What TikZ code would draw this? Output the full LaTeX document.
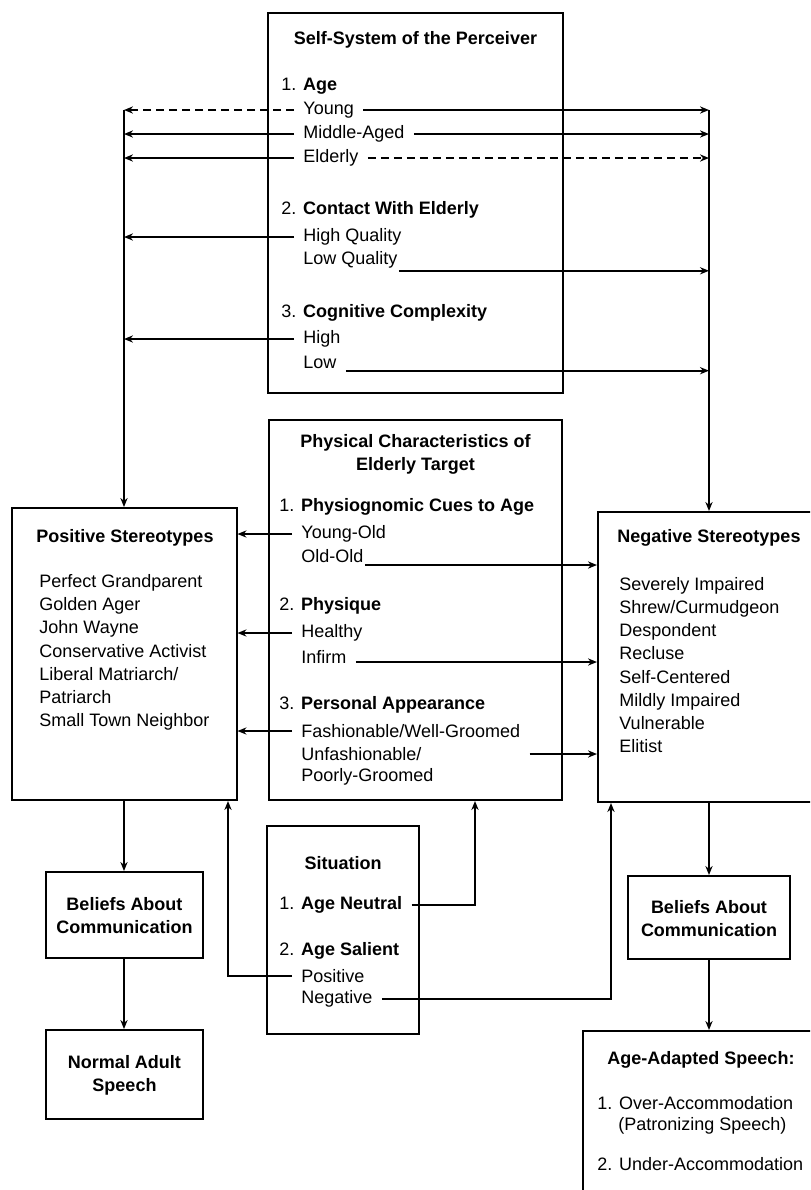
\documentclass[tikz,border=0pt]{standalone}
\usepackage{fontspec}
\setmainfont{Liberation Sans}
\usetikzlibrary{arrows.meta}
\newcommand{\figfont}{\fontsize{9}{11.6}\selectfont}

\begin{document}
\begin{tikzpicture}[x=0.5pt, y=-0.5pt, font=\figfont]
  \tikzset{box/.style={draw, line width=1pt, inner sep=0pt},
    head/.style={font=\figfont\bfseries, align=center, inner sep=0pt},
    item/.style={anchor=west, inner xsep=4.5pt, inner ysep=1pt},
    list/.style={anchor=west, align=left, inner sep=0pt},
    link/.style={line width=0.9pt, -{Stealth[length=4.5pt, width=3.6pt]}},
    dash line/.style={dash pattern=on 4pt off 2.5pt}}

  \useasboundingbox (0,0) rectangle (810,1190);
  \clip (0,0) rectangle (810,1190);

  % boxes
  \node[box, minimum width=147.5pt, minimum height=190pt] (self) at (415.5,203) {};
  \node[box, minimum width=146.5pt, minimum height=190pt] (phys) at (415.5,610) {};
  \node[box, minimum width=112.5pt, minimum height=146pt] (pos) at (124,654) {};
  \node[box, minimum width=111pt, minimum height=145pt] (neg) at (709,657) {};
  \node[box, minimum width=76pt, minimum height=104pt] (sit) at (343,930) {};
  \node[box, minimum width=78.5pt, minimum height=43pt] (belL) at (124,915) {};
  \node[box, minimum width=78.5pt, minimum height=44.5pt] (normal) at (124,1074.5) {};
  \node[box, minimum width=81pt, minimum height=41.5pt] (belR) at (709,917.5) {};
  \node[box, minimum width=126pt, minimum height=89.5pt] (adapt) at (709,1120.5) {};

  % self-system of the perceiver
  \node[head] (selftitle) at (415.5,40) {Self-System of the Perceiver};
  \node[item] (age) at (272,86) {1. \textbf{Age}};
  \node[item] (young) at (294,110) {Young};
  \node[item] (midage) at (294,134) {Middle-Aged};
  \node[item] (elderly) at (294,158) {Elderly};
  \node[item] (contact) at (272,210) {2. \textbf{Contact With Elderly}};
  \node[item] (highq) at (294,237) {High Quality};
  \node[item] (lowq) at (294,260) {Low Quality};
  \node[item] (cogn) at (272,313) {3. \textbf{Cognitive Complexity}};
  \node[item] (high) at (294,339) {High};
  \node[item] (low) at (294,362) {Low};

  % physical characteristics
  \node[head] (phystitle) at (415.5,454.5) {Physical Characteristics of\\Elderly Target};
  \node[item] (cues) at (270,507) {1. \textbf{Physiognomic Cues to Age}};
  \node[item] (youngold) at (292,534) {Young-Old};
  \node[item] (oldold) at (292,556) {Old-Old};
  \node[item] (physique) at (270,606) {2. \textbf{Physique}};
  \node[item] (healthy) at (292,633) {Healthy};
  \node[item] (infirm) at (292,657) {Infirm};
  \node[item] (appear) at (270,705) {3. \textbf{Personal Appearance}};
  \node[item] (fashion) at (292,731) {Fashionable/Well-Groomed};
  \node[item] (unfash) at (292,754) {Unfashionable/};
  \node[item] (poorly) at (292,777) {Poorly-Groomed};

  % stereotypes
  \node[head] (postitle) at (125,538) {Positive Stereotypes};
  \node[list] (poslist) at (39,652.5) {Perfect Grandparent\\Golden Ager\\John Wayne\\Conservative Activist\\Liberal Matriarch/\\Patriarch\\Small Town Neighbor};
  \node[head] (negtitle) at (709,538) {Negative Stereotypes};
  \node[list] (neglist) at (619,665) {Severely Impaired\\Shrew/Curmudgeon\\Despondent\\Recluse\\Self-Centered\\Mildly Impaired\\Vulnerable\\Elitist};

  % situation
  \node[head] (sittitle) at (343,863) {Situation};
  \node[item] (neutral) at (270,905) {1. \textbf{Age Neutral}};
  \node[item] (salient) at (270,951) {2. \textbf{Age Salient}};
  \node[item] (sitpos) at (292,976) {Positive};
  \node[item] (sitneg) at (292,999) {Negative};

  % outcomes
  \node[head] (belLtext) at (124.5,915.5) {Beliefs About\\Communication};
  \node[head] (normtext) at (124.5,1075.5) {Normal Adult\\Speech};
  \node[head] (belRtext) at (709,918.5) {Beliefs About\\Communication};
  \node[head] (adapttitle) at (701,1060) {Age-Adapted Speech:};
  \node[list] (over) at (597,1103) {1. Over-Accommodation};
  \node[list] (patron) at (618,1126) {(Patronizing Speech)};
  \node[list] (under) at (597,1164) {2. Under-Accommodation};

  % turning points
  \coordinate (ltop) at (124,110);
  \coordinate (rtop) at (709,110);
  \coordinate (posup) at (228,0);
  \coordinate (neutralup) at (475,0);
  \coordinate (negup) at (611,0);
  \coordinate (infirmout) at ([yshift=-2.5pt]infirm.east);

  % arrows from the perceiver
  \draw[link, dash line] (young.west) -- (young.west -| ltop);
  \draw[link] (young.east) -- (young.east -| rtop);
  \draw[link] (midage.west) -- (midage.west -| ltop);
  \draw[link] (midage.east) -- (midage.east -| rtop);
  \draw[link] (elderly.west) -- (elderly.west -| ltop);
  \draw[link, dash line] (elderly.east) -- (elderly.east -| rtop);
  \draw[link] (highq.west) -- (highq.west -| ltop);
  \draw[link] ([xshift=-4pt]lowq.south east) -- (lowq.south east -| rtop);
  \draw[link] (high.west) -- (high.west -| ltop);
  \draw[link] (low.south east) -- (low.south east -| rtop);
  \draw[link] (ltop) -- (ltop |- pos.north);
  \draw[link] (rtop) -- (rtop |- neg.north);

  % arrows from the target
  \draw[link] (youngold.west) -- (youngold.west -| pos.east);
  \draw[link] ([xshift=-4pt]oldold.south east) -- (oldold.south east -| neg.west);
  \draw[link] (healthy.west) -- (healthy.west -| pos.east);
  \draw[link] (infirmout) -- (infirmout -| neg.west);
  \draw[link] (fashion.west) -- (fashion.west -| pos.east);
  \draw[link] (unfash -| fashion.east) -- (unfash -| neg.west);

  % arrows from the situation
  \draw[link] (neutral.east) -| (neutralup |- phys.south);
  \draw[link] (sitpos.west) -| (posup |- pos.south);
  \draw[link] (sitneg.east) -| (negup |- neg.south);

  % down to speech
  \draw[link] (pos.south) -- (belL.north);
  \draw[link] (belL.south) -- (normal.north);
  \draw[link] (neg.south) -- (belR.north);
  \draw[link] (belR.south) -- (belR.south |- adapt.north);
\end{tikzpicture}
\end{document}
